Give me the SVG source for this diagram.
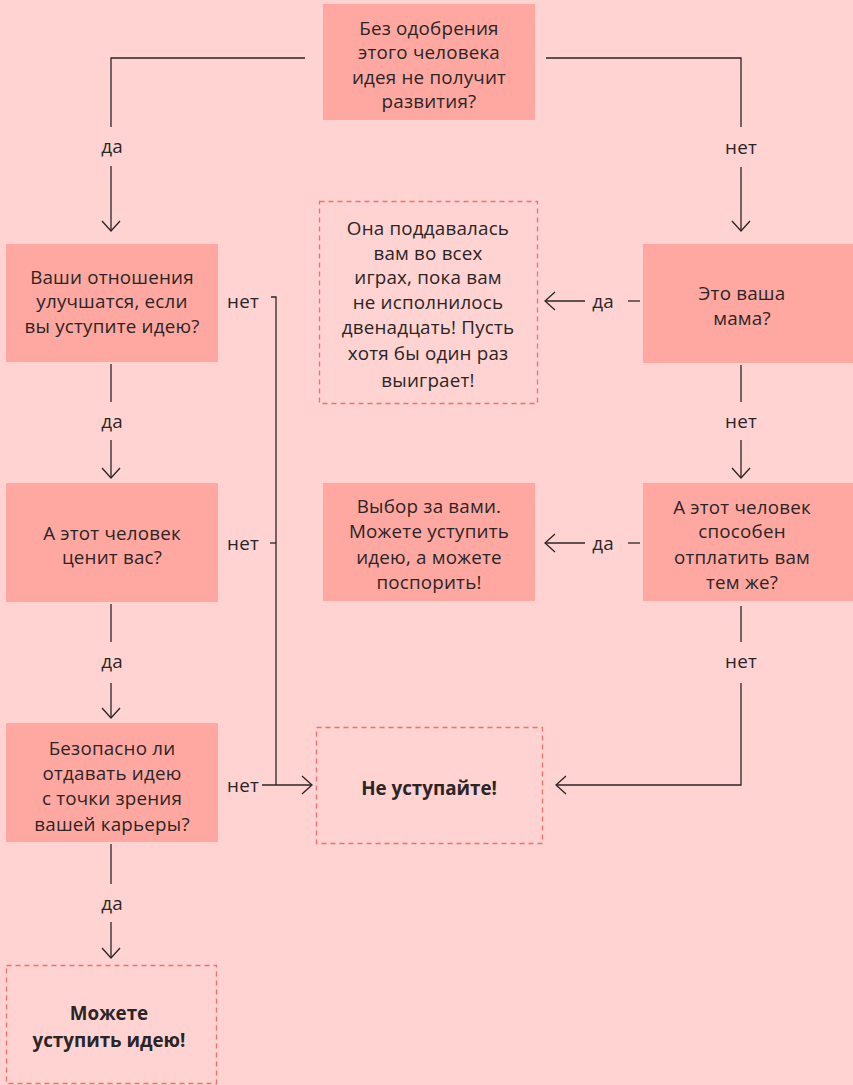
<svg xmlns="http://www.w3.org/2000/svg" width="853" height="1085" viewBox="0 0 853 1085">
<defs>
<style>
.bg{fill:#FFD3D2}
.box{fill:#FFA8A2}
.dash{fill:none;stroke:#F0706B;stroke-width:1.3;stroke-dasharray:5 4}
text{font-family:"Open Sans","Liberation Sans",sans-serif;font-size:18.8px;letter-spacing:0.2px;fill:#2b2525;text-anchor:middle;dominant-baseline:central}
.b{font-weight:bold;letter-spacing:0}
.ln{fill:none;stroke:#2b2525;stroke-width:1.3}
</style>
<marker id="ar" viewBox="0 0 12 20" refX="11" refY="10" markerWidth="12" markerHeight="20" markerUnits="userSpaceOnUse" orient="auto">
<path d="M1 1 L11 10 L1 19" fill="none" stroke="#2b2525" stroke-width="1.3"/>
</marker>
</defs>
<rect class="bg" x="0" y="0" width="853" height="1085"/>

<g id="q1">
<rect class="box" x="323" y="4" width="212" height="116"/>
<text x="429" y="28">Без одобрения</text>
<text x="429" y="52">этого человека</text>
<text x="429" y="77">идея не получит</text>
<text x="429" y="101">развития?</text>
</g>

<g id="q2">
<rect class="box" x="6" y="244" width="212" height="118"/>
<text x="112" y="277">Ваши отношения</text>
<text x="112" y="301">улучшатся, если</text>
<text x="112" y="326">вы уступите идею?</text>
</g>

<g id="q3">
<rect class="box" x="6" y="483" width="212" height="119"/>
<text x="112" y="533">А этот человек</text>
<text x="112" y="557">ценит вас?</text>
</g>

<g id="q4">
<rect class="box" x="6" y="723" width="212" height="119"/>
<text x="112" y="748">Безопасно ли</text>
<text x="112" y="773">отдавать идею</text>
<text x="112" y="798">с точки зрения</text>
<text x="112" y="824">вашей карьеры?</text>
</g>

<g id="r_yes">
<rect class="dash" x="6.5" y="965.5" width="210" height="118"/>
<text class="b" x="109" y="1013">Можете</text>
<text class="b" x="109" y="1040">уступить идею!</text>
</g>

<g id="mom_note">
<rect class="dash" x="319.5" y="201.5" width="218" height="202"/>
<text x="428" y="228">Она поддавалась</text>
<text x="428" y="253">вам во всех</text>
<text x="428" y="277">играх, пока вам</text>
<text x="428" y="302">не исполнилось</text>
<text x="428" y="327">двенадцать! Пусть</text>
<text x="428" y="353">хотя бы один раз</text>
<text x="428" y="380">выиграет!</text>
</g>

<g id="q_mom">
<rect class="box" x="643" y="244" width="210" height="119"/>
<text x="742" y="293">Это ваша</text>
<text x="742" y="318">мама?</text>
</g>

<g id="q_repay">
<rect class="box" x="643" y="483" width="210" height="118"/>
<text x="742" y="507">А этот человек</text>
<text x="742" y="531">способен</text>
<text x="742" y="557">отплатить вам</text>
<text x="742" y="582">тем же?</text>
</g>

<g id="choice">
<rect class="box" x="323" y="483" width="212" height="118"/>
<text x="429" y="506">Выбор за вами.</text>
<text x="429" y="531">Можете уступить</text>
<text x="429" y="557">идею, а можете</text>
<text x="429" y="582">поспорить!</text>
</g>

<g id="r_no">
<rect class="dash" x="316.5" y="727.5" width="226" height="116"/>
<text class="b" x="429" y="788">Не уступайте!</text>
</g>

<g id="connectors">
<path class="ln" d="M305 58 H111 V127"/>
<text x="112" y="146">да</text>
<path class="ln" d="M111 166 V231" marker-end="url(#ar)"/>

<path class="ln" d="M546 58 H741 V127"/>
<text x="741" y="147">нет</text>
<path class="ln" d="M741 167 V231" marker-end="url(#ar)"/>

<path class="ln" d="M111 364 V402"/>
<text x="112" y="421">да</text>
<path class="ln" d="M111 440 V478" marker-end="url(#ar)"/>

<path class="ln" d="M111 604 V642"/>
<text x="112" y="661">да</text>
<path class="ln" d="M111 683 V718" marker-end="url(#ar)"/>

<path class="ln" d="M111 844 V884"/>
<text x="112" y="903">да</text>
<path class="ln" d="M111 922 V958" marker-end="url(#ar)"/>

<text x="243" y="301">нет</text>
<path class="ln" d="M271 297 H276 V785"/>
<text x="243" y="543">нет</text>
<path class="ln" d="M270 543 H276"/>
<text x="243" y="785">нет</text>
<path class="ln" d="M262 785 H312" marker-end="url(#ar)"/>

<path class="ln" d="M640 301 H628"/>
<text x="603" y="301">да</text>
<path class="ln" d="M585 301 H545" marker-end="url(#ar)"/>

<path class="ln" d="M640 543 H628"/>
<text x="603" y="543">да</text>
<path class="ln" d="M585 543 H545" marker-end="url(#ar)"/>

<path class="ln" d="M741 365 V402"/>
<text x="741" y="421">нет</text>
<path class="ln" d="M741 440 V478" marker-end="url(#ar)"/>

<path class="ln" d="M741 606 V642"/>
<text x="741" y="661">нет</text>
<path class="ln" d="M741 683 V785 H556" marker-end="url(#ar)"/>
</g>
</svg>
